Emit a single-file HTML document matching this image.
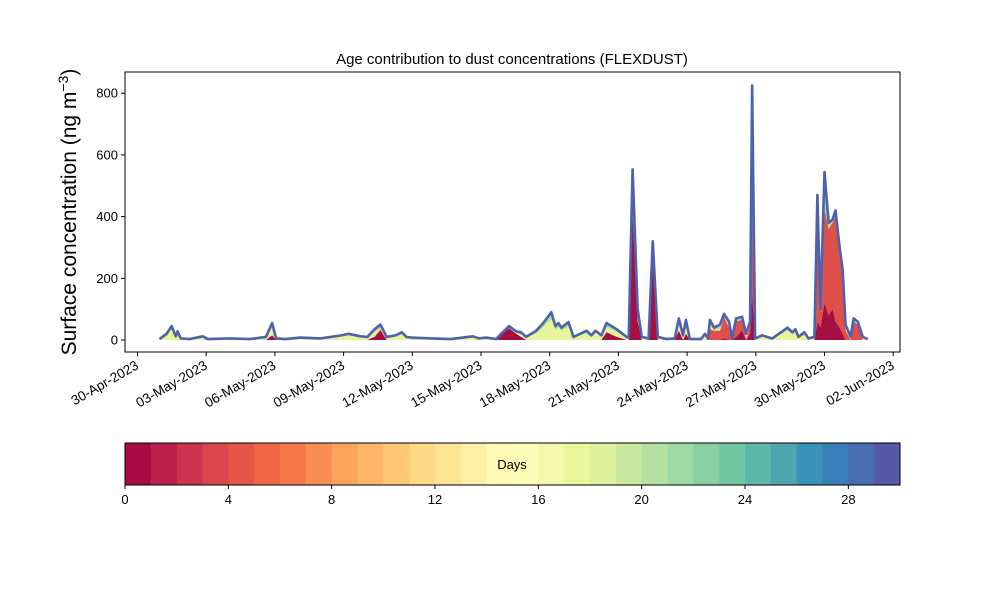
<!DOCTYPE html>
<html><head><meta charset="utf-8"><style>
body{margin:0;background:#fff;}
svg{display:block;font-family:"Liberation Sans","DejaVu Sans",sans-serif;}
</style></head><body>
<svg id="chart" width="1000" height="600" viewBox="0 0 1000 600">
<rect x="0" y="0" width="1000" height="600" fill="#fff"/>
<text x="512" y="64" text-anchor="middle" font-size="15">Age contribution to dust concentrations (FLEXDUST)</text>
<text transform="translate(76,212) rotate(-90)" text-anchor="middle" font-size="21">Surface concentration (ng m<tspan dy="-8" font-size="14">−3</tspan><tspan dy="8">)</tspan></text>
<g id="plot"></g>
<g id="cbar"></g>
</svg>
<script>
const times=[0.96,1.27,1.49,1.67,1.75,1.89,2.28,2.85,3.07,4.04,4.91,5.61,5.88,6.05,6.45,7.11,7.98,8.9,9.21,9.74,10.04,10.35,10.61,10.88,11.27,11.54,11.75,11.97,12.81,13.68,14.65,14.91,15.22,15.66,15.88,16.23,16.54,16.75,16.97,17.41,17.72,18.07,18.25,18.38,18.51,18.82,19.04,19.61,19.82,20.0,20.26,20.48,20.92,21.36,21.45,21.62,21.84,22.02,22.32,22.5,22.72,23.11,23.46,23.64,23.82,23.95,24.12,24.61,24.78,24.91,25.0,25.18,25.44,25.61,25.83,25.96,26.14,26.4,26.58,26.75,26.84,26.97,27.28,27.72,28.38,28.6,28.73,28.86,29.12,29.3,29.56,29.69,29.82,30.0,30.18,30.35,30.48,30.66,30.79,30.92,31.14,31.27,31.45,31.67,31.89];
const totals=[3,20,45,12,28,5,3,12,3,5,3,10,55,5,3,8,5,15,20,12,10,35,50,10,15,25,10,8,5,3,12,5,8,3,20,45,28,25,10,30,55,90,45,55,40,58,10,30,15,30,15,55,35,10,8,553,100,10,5,320,10,3,5,70,15,65,3,3,20,5,65,40,50,85,60,5,70,75,20,60,825,5,15,5,40,25,35,10,25,5,10,470,100,545,380,390,420,300,230,50,10,70,60,10,3];
const young=[0,0,0,0,0,0,0,0,0,0,0,0,15,0,0,0,0,0,0,0,0,10,30,0,0,0,0,0,0,0,0,0,0,0,15,38,20,10,0,0,0,0,0,0,0,0,0,0,0,0,0,25,10,0,0,400,60,0,0,300,0,0,0,30,0,20,0,0,0,0,0,0,0,5,0,0,10,30,0,20,150,0,0,0,0,0,0,0,0,0,0,60,40,120,80,100,60,40,20,0,0,0,0,0,0];
const mid=[0,0,0,0,0,0,0,0,0,0,0,0,0,0,0,0,0,0,0,0,0,0,5,0,0,0,0,0,0,0,0,0,0,0,0,0,0,0,0,0,0,0,0,0,0,0,0,0,0,0,0,0,0,0,0,50,0,0,0,10,0,0,0,0,0,0,0,0,0,0,35,30,30,70,40,0,50,35,0,25,250,0,0,0,0,0,0,0,0,0,0,250,50,300,280,280,340,240,190,30,0,60,50,0,0];
const yTicks=[0,200,400,600,800];
const xTickDays=[0,3,6,9,12,15,18,21,24,27,30,33];
const xTickLabels=["30-Apr-2023","03-May-2023","06-May-2023","09-May-2023","12-May-2023","15-May-2023","18-May-2023","21-May-2023","24-May-2023","27-May-2023","30-May-2023","02-Jun-2023"];
const cbTicks=[0,4,8,12,16,20,24,28];
const NS="http://www.w3.org/2000/svg";
const L=125,R=900,T=72,B=352;
const xs=d=>137.5+d*22.9;
const ys=v=>340-v*0.3085;
const plot=document.getElementById('plot');
function mk(tag,at,parent){const e=document.createElementNS(NS,tag);for(const k in at)e.setAttribute(k,at[k]);parent.appendChild(e);return e;}
function band(lo,hi,color,name){
  let d='M'+xs(times[0])+','+ys(hi[0]);
  for(let i=1;i<times.length;i++)d+='L'+xs(times[i])+','+ys(hi[i]);
  for(let i=times.length-1;i>=0;i--)d+='L'+xs(times[i])+','+ys(lo[i]);
  const p=mk('path',{d:d+'Z',fill:color,stroke:'none'},plot);
  
  
}
const zero=times.map(()=>0);
const ym=young.map((v,i)=>Math.min(totals[i],v+mid[i]));
const yo=young.map((v,i)=>Math.min(totals[i],v));
const nearTop=totals.map((v,i)=>Math.max(ym[i],v*0.75));
band(zero,totals.map(v=>Math.min(v,4)),'#fee08b','base-layer');
band(ym,totals,'#e6f598','old-age-layer');
band(nearTop,totals,'#abdda4','older-age-layer');
band(yo,ym,'#e0504a','mid-age-layer');
band(zero,yo,'#a50f43','young-age-layer');
let ld='M'+xs(times[0])+','+ys(totals[0]);
for(let i=1;i<times.length;i++)ld+='L'+xs(times[i])+','+ys(totals[i]);
const line=mk('path',{d:ld,fill:'none',stroke:'#4e62ab','stroke-width':2.6,'stroke-linejoin':'round'},plot);


const frame=mk('rect',{x:L,y:T,width:R-L,height:B-T,fill:'none',stroke:'#000','stroke-width':1},plot);


yTicks.forEach(v=>{
  mk('line',{x1:L-4,x2:L,y1:ys(v),y2:ys(v),stroke:'#000'},plot);
  const t=mk('text',{x:L-7,y:ys(v)+4.5,'text-anchor':'end','font-size':13},plot);
  t.textContent=v;
  
  
});
xTickDays.forEach((d,i)=>{
  const x=xs(d);
  mk('line',{x1:x,x2:x,y1:B,y2:B+4,stroke:'#000'},plot);
  const t=mk('text',{transform:`translate(${x+2},${B+16}) rotate(-30)`,'text-anchor':'end','font-size':13.5},plot);
  t.textContent=xTickLabels[i];
  
  
});
const anchors=['#9e0142','#d53e4f','#f46d43','#fdae61','#fee08b','#ffffbf','#e6f598','#abdda4','#66c2a5','#3288bd','#5e4fa2'].map(h=>[1,3,5].map(j=>parseInt(h.substr(j,2),16)));
function spectral(t){const p=t*10,i=Math.min(9,Math.floor(p)),f=p-i;return 'rgb('+anchors[i].map((c,k)=>Math.round(c+(anchors[i+1][k]-c)*f)).join(',')+')';}
const cb=document.getElementById('cbar');
const cx0=125,cx1=900,cy0=443,cy1=485,n=30,w=(cx1-cx0)/n;
for(let i=0;i<n;i++){
  const r=mk('rect',{x:cx0+i*w,y:cy0,width:w+0.5,height:cy1-cy0,fill:spectral((i+0.5)/n)},cb);
  
  
}
mk('rect',{x:cx0,y:cy0,width:cx1-cx0,height:cy1-cy0,fill:'none',stroke:'#000'},cb);
const dl=mk('text',{x:512,y:469,'text-anchor':'middle','font-size':13},cb);
dl.textContent='Days';


cbTicks.forEach(v=>{
  const x=cx0+v/30*(cx1-cx0);
  mk('line',{x1:x,x2:x,y1:cy1,y2:cy1+4,stroke:'#000'},cb);
  const t=mk('text',{x:x,y:cy1+19,'text-anchor':'middle','font-size':13},cb);
  t.textContent=v;
  
  
});
</script>
</body></html>
